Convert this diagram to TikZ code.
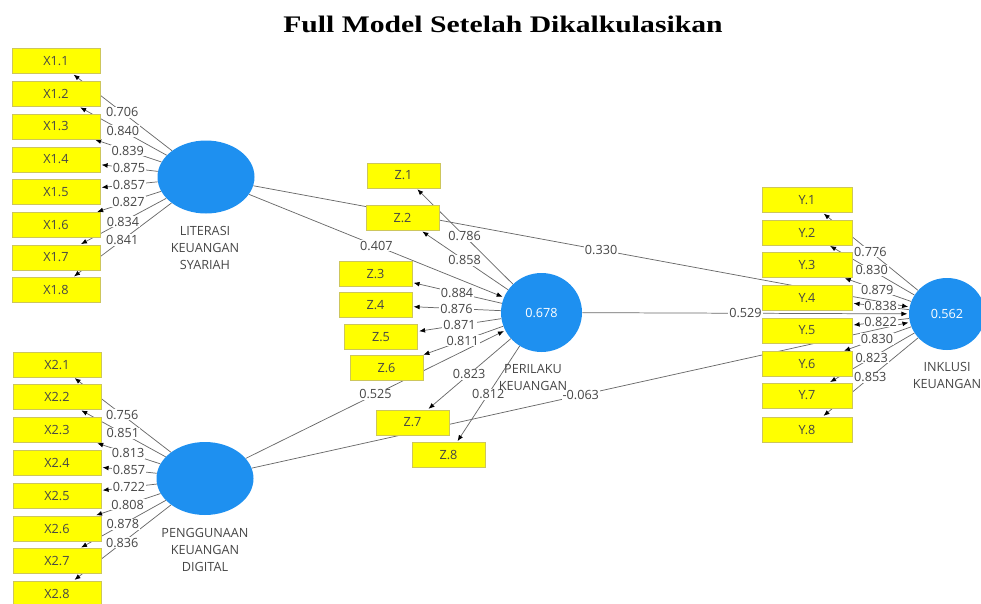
\documentclass[tikz,border=0pt]{standalone}
\usepackage{fontspec}
\setmainfont{Open Sans}
\newfontfamily\titlefont{Liberation Serif}
\usetikzlibrary{arrows.meta,shapes.geometric}
\pgfdeclarelayer{bg}
\pgfdeclarelayer{lbl}
\pgfsetlayers{bg,lbl,main}
\definecolor{lvblue}{RGB}{30,144,240}
\definecolor{indyel}{RGB}{255,255,0}
\definecolor{txtgray}{RGB}{70,70,70}
\definecolor{linegray}{RGB}{105,105,105}
\begin{document}
\begin{tikzpicture}[x=0.75pt,y=-0.75pt,
  ind/.style={rectangle, fill=indyel, draw=yellow!55!gray, line width=0.4pt,
    minimum height=18.75pt, inner sep=0pt, text=txtgray,
    font=\fontsize{9.5}{11}\selectfont},
  indx/.style={ind, minimum width=66pt},
  indz/.style={ind, minimum width=54.75pt},
  indy/.style={ind, minimum width=67.5pt},
  lv/.style={ellipse, fill=lvblue, draw=none, inner sep=0pt, text=white,
    font=\fontsize{9.5}{11}\selectfont},
  lvname/.style={align=center, text=txtgray, font=\fontsize{9.5}{12.75}\selectfont},
  lbl/.style={fill=white, inner sep=0.7pt, text=txtgray, font=\fontsize{9.5}{11}\selectfont},
  arr/.style={draw=linegray, line width=0.55pt, shorten >=1pt,
    -{Latex[length=4.5pt,width=3.6pt,color=black]}},
]
\useasboundingbox (0,0) rectangle (981,603);

% title
\node[anchor=base, font=\titlefont\bfseries\fontsize{17.8}{20}\selectfont] (title) at (503,32) {\scalebox{1.25}[1]{Full Model Setelah Dikalkulasikan}};

% latent variables
\node[lv, minimum width=72.75pt, minimum height=54.75pt] (lit) at (206,177) {};
\node[lv, minimum width=72.75pt, minimum height=54.75pt] (peng) at (205,478.5) {};
\node[lv, minimum width=60.75pt, minimum height=59.25pt] (per) at (541.5,312.5) {0.678};
\node[lv, minimum width=57pt, minimum height=54pt] (ink) at (947,314) {0.562};

\node[lvname] (litname) at (205,248) {LITERASI\\KEUANGAN\\SYARIAH};
\node[lvname] (pengname) at (205,550) {PENGGUNAAN\\KEUANGAN\\DIGITAL};
\node[lvname] (pername) at (533,377.5) {PERILAKU\\KEUANGAN};
\node[lvname] (inkname) at (947,375) {INKLUSI\\KEUANGAN};

% X1 indicators
\foreach \i/\yy in {1/61,2/94,3/126.5,4/159.5,5/192,6/225,7/257.5,8/290}
  \node[indx] (x1\i) at (56,\yy) {X1.\i};
% X2 indicators
\foreach \i/\yy in {1/364.5,2/397,3/430,4/462.5,5/495.5,6/528.5,7/561,8/593.5}
  \node[indx] (x2\i) at (57,\yy) {X2.\i};
% Z indicators
\foreach \i/\xx/\yy in {1/403.5/175.5,2/402.5/218,3/375.5/274,4/375.5/305,5/381/337,6/386.5/368,7/412.5/422.5,8/448.5/455}
  \node[indz] (z\i) at (\xx,\yy) {Z.\i};
% Y indicators
\foreach \i/\yy in {1/200,2/232.5,3/265,4/298,5/330.5,6/364,7/395.5,8/429.5}
  \node[indy] (y\i) at (807,\yy) {Y.\i};

% connectors
\begin{pgfonlayer}{bg}
  \foreach \i in {1,...,8} {
    \draw[arr] (lit) -- (x1\i);
    \draw[arr] (peng) -- (x2\i);
    \draw[arr] (per) -- (z\i);
    \draw[arr] (ink) -- (y\i);
  }
  \draw[arr] (lit) -- (per);
  \draw[arr] (lit) -- (ink);
  \draw[arr] (peng) -- (per);
  \draw[arr] (peng) -- (ink);
  \draw[arr] (per) -- (ink);
\end{pgfonlayer}

% labels
\begin{pgfonlayer}{lbl}
  \foreach \i/\v in {1/0.706,2/0.840,3/0.839,4/0.875,5/0.857,6/0.827,7/0.834,8/0.841}
    \path (lit) -- node[lbl] {\v} (x1\i);
  \foreach \i/\v in {1/0.756,2/0.851,3/0.813,4/0.857,5/0.722,6/0.808,7/0.878,8/0.836}
    \path (peng) -- node[lbl] {\v} (x2\i);
  \foreach \i/\v in {1/0.786,2/0.858,3/0.884,4/0.876,5/0.871,6/0.811,7/0.823,8/0.812}
    \path (per) -- node[lbl] {\v} (z\i);
  \foreach \i/\v in {1/0.776,2/0.830,3/0.879,4/0.838,5/0.822,6/0.830,7/0.823,8/0.853}
    \path (ink) -- node[lbl] {\v} (y\i);
  \path (lit) -- node[lbl] {0.407} (per);
  \path (lit) -- node[lbl, pos=0.53] {0.330} (ink);
  \path (peng) -- node[lbl] {0.525} (per);
  \path (peng) -- node[lbl] {-0.063} (ink);
  \path (per) -- node[lbl] {0.529} (ink);
\end{pgfonlayer}
\end{tikzpicture}
\end{document}
